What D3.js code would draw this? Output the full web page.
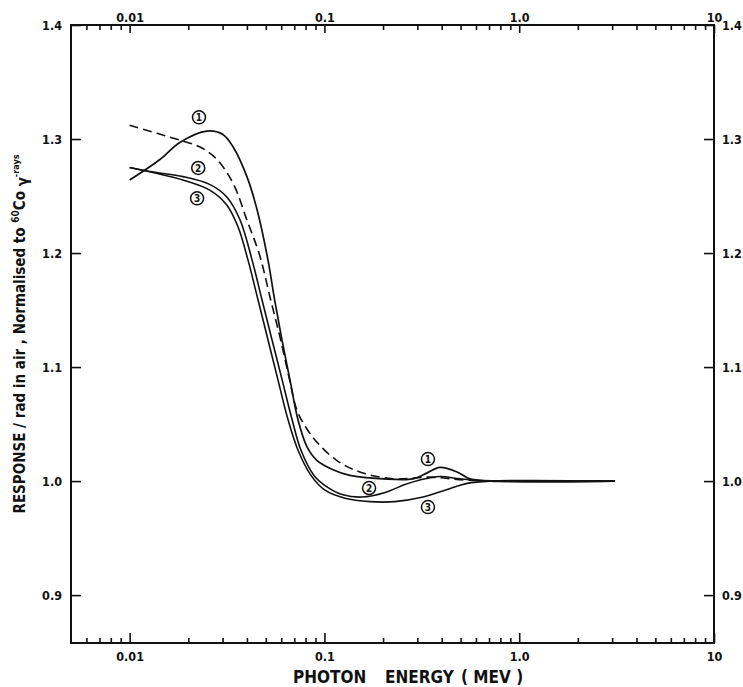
<!DOCTYPE html>
<html>
<head>
<meta charset="utf-8">
<script src="https://cdn.jsdelivr.net/npm/d3@7"></script>
<style>
  html, body { margin: 0; padding: 0; background: #fff; }
  svg { display: block; }
  text { font-family: "Liberation Sans Narrow", "DejaVu Sans Condensed", "DejaVu Sans", sans-serif; font-weight: bold; fill: #111; }
</style>
</head>
<body>
<svg id="chart" width="743" height="687"></svg>
<script>
// Photon energy (MeV) and normalised response for each curve
const curve1Energy = [0.010, 0.0143, 0.0181, 0.0249, 0.0301, 0.0340, 0.0400, 0.0451, 0.0513, 0.0555, 0.0605, 0.0665, 0.0731, 0.0814, 0.0917, 0.1107, 0.135, 0.200, 0.285, 0.335, 0.392, 0.480, 0.558, 0.796, 3.1];
const curve1Response = [1.264, 1.282, 1.297, 1.307, 1.304, 1.293, 1.267, 1.238, 1.194, 1.159, 1.124, 1.089, 1.054, 1.030, 1.018, 1.010, 1.005, 1.002, 1.002, 1.007, 1.012, 1.008, 1.002, 1.000, 1.000];

const dashedEnergy = [0.010, 0.0181, 0.0230, 0.0281, 0.0340, 0.0400, 0.0467, 0.0526, 0.0592, 0.0658, 0.0723, 0.0804, 0.0916, 0.116, 0.152, 0.225, 0.348, 0.52, 0.8, 3.1];
const dashedResponse = [1.312, 1.299, 1.293, 1.282, 1.261, 1.229, 1.197, 1.161, 1.126, 1.091, 1.062, 1.047, 1.034, 1.018, 1.008, 1.002, 1.0035, 1.001, 1.000, 1.000];

const curve2Energy = [0.010, 0.0132, 0.0188, 0.0259, 0.0316, 0.0369, 0.0425, 0.0478, 0.0538, 0.0606, 0.0682, 0.0758, 0.0884, 0.103, 0.1245, 0.156, 0.205, 0.259, 0.309, 0.392, 0.497, 0.71, 3.1];
const curve2Response = [1.275, 1.271, 1.267, 1.260, 1.249, 1.229, 1.194, 1.159, 1.124, 1.089, 1.054, 1.027, 1.005, 0.995, 0.988, 0.986, 0.990, 0.997, 1.001, 1.004, 1.002, 1.000, 1.000];

const curve3Energy = [0.010, 0.0188, 0.0259, 0.0316, 0.0360, 0.0405, 0.0456, 0.0513, 0.0577, 0.0650, 0.0732, 0.0853, 0.1007, 0.1275, 0.171, 0.230, 0.321, 0.416, 0.54, 0.71, 3.1];
const curve3Response = [1.275, 1.264, 1.255, 1.242, 1.223, 1.194, 1.159, 1.124, 1.089, 1.054, 1.027, 1.005, 0.992, 0.985, 0.982, 0.982, 0.986, 0.992, 0.998, 1.000, 1.000];

// Circled curve numbers
const markerText = ["1", "2", "3", "1", "2", "3"];
const markerEnergy = [0.0227, 0.0225, 0.0222, 0.340, 0.1695, 0.340];
const markerResponse = [1.319, 1.2746, 1.248, 1.0193, 0.9939, 0.9772];

// Axis ticks
const energyTicks = [0.01, 0.1, 1, 10];
const energyTickLabels = ["0.01", "0.1", "1.0", "10"];
const responseTicks = [0.9, 1.0, 1.1, 1.2, 1.3, 1.4];
const responseTickLabels = ["0.9", "1.0", "1.1", "1.2", "1.3", "1.4"];

const svg = d3.select("#chart");
const frame = { left: 71, right: 714, top: 25, bottom: 643 };

const x = d3.scaleLog().domain([0.005, 10]).range([frame.left, frame.right]);
const y = d3.scaleLinear().domain([0.858, 1.4]).range([frame.bottom, frame.top]);

const ink = "#111";

// Frame
svg.append("rect")
  .attr("x", frame.left).attr("y", frame.top)
  .attr("width", frame.right - frame.left).attr("height", frame.bottom - frame.top)
  .attr("fill", "none").attr("stroke", ink).attr("stroke-width", 2);

const minorTicks = x.ticks().filter(v => !energyTicks.includes(v) && v > 0.005 && v < 10);

function styleAxis(g) {
  g.select(".domain").remove();
  g.selectAll(".tick line").attr("stroke", ink).attr("stroke-width", 1.6);
  g.selectAll("text").attr("font-size", 12.5).attr("fill", ink);
}

// Bottom axis: minor and major ticks pointing inward
svg.append("g").attr("transform", `translate(0,${frame.bottom})`)
  .call(d3.axisBottom(x).tickValues(minorTicks).tickSize(-5).tickFormat(""))
  .call(styleAxis);
svg.append("g").attr("transform", `translate(0,${frame.bottom})`)
  .call(d3.axisBottom(x).tickValues(energyTicks).tickSize(-10).tickPadding(9)
    .tickFormat((d, i) => energyTickLabels[i]))
  .call(styleAxis);

// Top axis mirrors the energy scale
svg.append("g").attr("transform", `translate(0,${frame.top})`)
  .call(d3.axisTop(x).tickValues(minorTicks).tickSize(-5).tickFormat(""))
  .call(styleAxis);
svg.append("g").attr("transform", `translate(0,${frame.top})`)
  .call(d3.axisTop(x).tickValues(energyTicks).tickSize(-8).tickPadding(3)
    .tickFormat((d, i) => energyTickLabels[i]))
  .call(styleAxis);

// Left and right response axes
svg.append("g").attr("transform", `translate(${frame.left},0)`)
  .call(d3.axisLeft(y).tickValues(responseTicks).tickSize(-10).tickPadding(9)
    .tickFormat((d, i) => responseTickLabels[i]))
  .call(styleAxis);
svg.append("g").attr("transform", `translate(${frame.right},0)`)
  .call(d3.axisRight(y).tickValues(responseTicks).tickSize(-10).tickPadding(8)
    .tickFormat((d, i) => responseTickLabels[i]))
  .call(styleAxis);

// Curves
const line = d3.line()
  .x(d => x(d[0]))
  .y(d => y(d[1]))
  .curve(d3.curveCatmullRom.alpha(0.5));

const series = [
  { e: curve3Energy, r: curve3Response, dash: null, w: 1.6 },
  { e: curve2Energy, r: curve2Response, dash: null, w: 1.6 },
  { e: dashedEnergy, r: dashedResponse, dash: "9,5", w: 1.6 },
  { e: curve1Energy, r: curve1Response, dash: null, w: 1.7 }
];

svg.append("g").selectAll("path")
  .data(series)
  .join("path")
  .attr("d", s => line(s.e.map((e, i) => [e, s.r[i]])))
  .attr("fill", "none")
  .attr("stroke", ink)
  .attr("stroke-width", s => s.w)
  .attr("stroke-dasharray", s => s.dash)
  .attr("stroke-linejoin", "round");

// Circled labels
const markers = svg.append("g").selectAll("g")
  .data(markerText.map((t, i) => ({ t, e: markerEnergy[i], r: markerResponse[i] })))
  .join("g")
  .attr("transform", d => `translate(${x(d.e)},${y(d.r)})`);
markers.append("circle").attr("r", 6.5).attr("fill", "#fff")
  .attr("stroke", ink).attr("stroke-width", 1.5);
markers.append("text").text(d => d.t)
  .attr("text-anchor", "middle").attr("dy", "0.36em")
  .attr("font-size", 10);

// Axis titles
const xTitle = svg.append("g");
[["PHOTON", 293], ["ENERGY", 385], ["( MEV )", 461]].forEach(([t, px]) => {
  xTitle.append("text").attr("x", px).attr("y", 683).attr("font-size", 17).text(t);
});

const yTitle = svg.append("text")
  .attr("transform", "translate(25,334) rotate(-90)")
  .attr("text-anchor", "middle")
  .attr("font-size", 15);
yTitle.append("tspan").text("RESPONSE / rad in air , Normalised to ");
yTitle.append("tspan").attr("dy", -6).attr("font-size", 10).text("60");
yTitle.append("tspan").attr("dy", 6).text("Co ");
yTitle.append("tspan").attr("dy", 3).text("γ");
yTitle.append("tspan").attr("dy", -9).attr("font-size", 9).text("-rays");
</script>
</body>
</html>
